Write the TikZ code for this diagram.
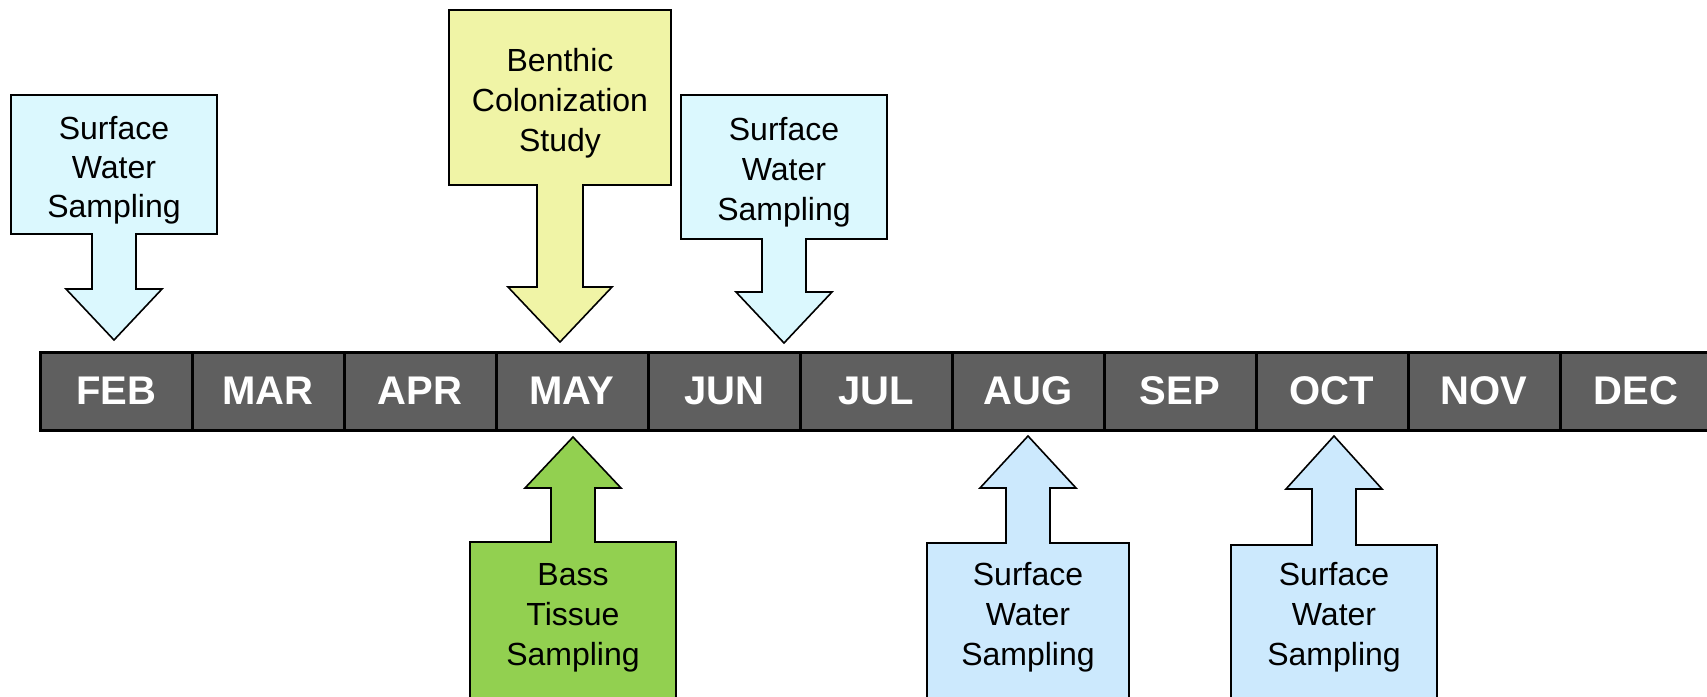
\documentclass[tikz,border=0pt]{standalone}
\usepackage{fontspec}
\setmainfont{Liberation Sans}
\definecolor{topblue}{RGB}{219,248,254}
\definecolor{botblue}{RGB}{204,233,253}
\definecolor{benthic}{RGB}{240,244,166}
\definecolor{bassgreen}{RGB}{146,208,80}
\definecolor{bargray}{RGB}{95,95,95}
\newcommand{\dncallout}[9]{%
  \draw[callout,fill=#9] ({#1-#2},#3) -- ({#1+#2},#3) -- ({#1+#2},#4) -- ({#1+#5},#4)
    -- ({#1+#5},#7) -- ({#1+#6},#7) -- (#1,#8) -- ({#1-#6},#7) -- ({#1-#5},#7)
    -- ({#1-#5},#4) -- ({#1-#2},#4) -- cycle;}
\newcommand{\upcallout}[8]{%
  \draw[callout,fill=#8] ({#1-#2},720) -- ({#1-#2},#3) -- ({#1-#4},#3) -- ({#1-#4},#6)
    -- ({#1-#5},#6) -- (#1,#7) -- ({#1+#5},#6) -- ({#1+#4},#6) -- ({#1+#4},#3)
    -- ({#1+#2},#3) -- ({#1+#2},720);}
\begin{document}
\begin{tikzpicture}[x=1pt,y=-1pt,
  callout/.style={draw=black,line width=1.6pt,line join=miter},
  month/.style={draw=black,line width=3pt,fill=bargray,minimum width=152pt,
    minimum height=78pt,inner sep=0pt,text=white,
    font=\fontsize{40}{44}\selectfont\bfseries},
  lbl/.style={align=center,inner sep=0pt,text=black,
    font=\fontsize{32}{40}\selectfont},
  lblfeb/.style={lbl,font=\fontsize{32}{39}\selectfont}]
\useasboundingbox (0,0) rectangle (1707,696);
\clip (0,0) rectangle (1707,696);
% timeline
\node[month] (feb) at (116,391) {FEB};
\node[month] (mar) at (268,391) {MAR};
\node[month] (apr) at (420,391) {APR};
\node[month] (may) at (572,391) {MAY};
\node[month] (jun) at (724,391) {JUN};
\node[month] (jul) at (876,391) {JUL};
\node[month] (aug) at (1028,391) {AUG};
\node[month] (sep) at (1180,391) {SEP};
\node[month] (oct) at (1332,391) {OCT};
\node[month] (nov) at (1484,391) {NOV};
\node[month] (dec) at (1636,391) {DEC};
% top callouts
\dncallout{114}{103}{95}{234}{22}{48}{289}{340}{topblue}
\dncallout{560}{111}{10}{185}{23}{52}{287}{342}{benthic}
\dncallout{784}{103}{95}{239}{22}{48}{292}{343}{topblue}
% bottom callouts
\upcallout{573}{103}{542}{22}{48}{488}{437}{bassgreen}
\upcallout{1028}{101}{543}{22}{48}{488}{436}{botblue}
\upcallout{1334}{103}{545}{22}{48}{489}{436}{botblue}
% labels
\node[lblfeb] (sw1) at (114,170) {Surface\\Water\\Sampling};
\node[lbl] (bcs) at (560,103) {Benthic\\Colonization\\Study};
\node[lbl] (sw2) at (784,172) {Surface\\Water\\Sampling};
\node[lbl] (bts) at (573,618) {Bass\\Tissue\\Sampling};
\node[lbl] (sw3) at (1028,617) {Surface\\Water\\Sampling};
\node[lbl] (sw4) at (1334,617) {Surface\\Water\\Sampling};
\end{tikzpicture}
\end{document}
